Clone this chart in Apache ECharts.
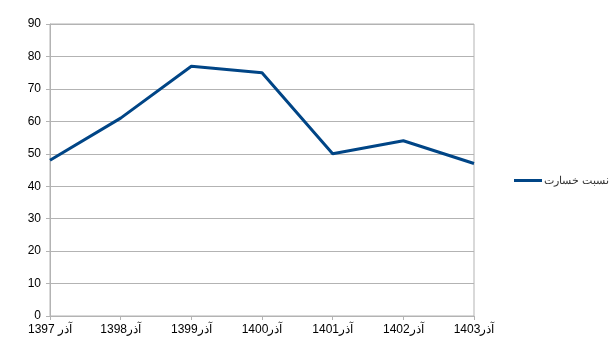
<!DOCTYPE html>
<html>
<head>
<meta charset="utf-8">
<script src="https://cdn.jsdelivr.net/npm/echarts@6/dist/echarts.min.js"></script>
<style>
html,body{margin:0;padding:0;background:#fff;}
#chart{width:611px;height:351px;}
</style>
</head>
<body>
<div id="chart"></div>
<script>
var categories = ['1397 آذر', '1398آذر', '1399آذر', '1400آذر', '1401آذر', '1402آذر', '1403آذر'];
var seriesName = 'نسبت خسارت';
var values = [48, 61, 77, 75, 50, 54, 47];
var yMin = 0, yMax = 90, yStep = 10;

var chart = echarts.init(document.getElementById('chart'), null, {renderer: 'canvas'});
var font = 'Liberation Sans, Arial, sans-serif';
chart.setOption({
  animation: false,
  backgroundColor: '#ffffff',
  grid: {left: 50, right: 137, top: 24, bottom: 35, show: true, borderColor: '#b3b3b3', borderWidth: 1, backgroundColor: 'transparent'},
  legend: {
    data: [{name: seriesName, icon: 'rect'}],
    orient: 'vertical',
    left: 514, top: 175,
    padding: 0,
    itemWidth: 28, itemHeight: 3, itemGap: 2,
    textStyle: {fontFamily: font, fontSize: 11, color: '#333', padding: [0, 0, 0, -3]}
  },
  xAxis: {
    type: 'category',
    data: categories,
    boundaryGap: false,
    axisLine: {lineStyle: {color: '#b3b3b3', width: 1}},
    axisTick: {show: true, length: 4, inside: false, lineStyle: {color: '#b3b3b3'}, alignWithLabel: true},
    axisLabel: {fontFamily: font, fontSize: 12, color: '#000', margin: 8, interval: 0},
    splitLine: {show: false}
  },
  yAxis: {
    type: 'value',
    min: yMin, max: yMax, interval: yStep,
    axisLine: {show: true, lineStyle: {color: '#b3b3b3', width: 1}},
    axisTick: {show: true, length: 4, lineStyle: {color: '#b3b3b3'}},
    axisLabel: {fontFamily: font, fontSize: 12, color: '#000', margin: 9},
    splitLine: {show: true, lineStyle: {color: '#b3b3b3', width: 1}}
  },
  series: [{
    name: seriesName,
    type: 'line',
    data: values,
    symbol: 'none',
    lineStyle: {color: '#004586', width: 3},
    itemStyle: {color: '#004586'}
  }]
});
</script>
</body>
</html>
